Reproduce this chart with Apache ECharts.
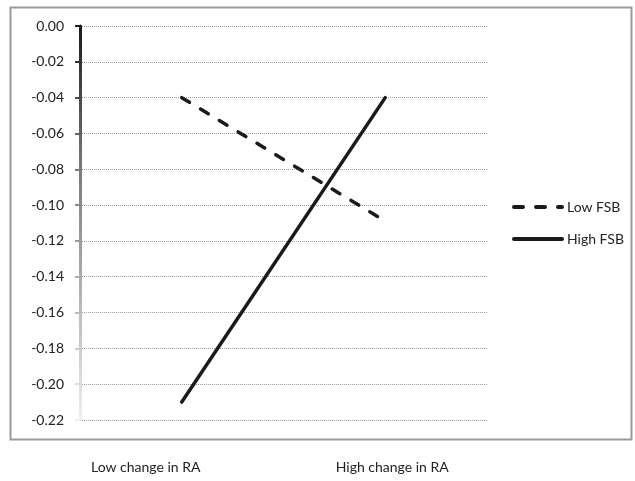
<!DOCTYPE html>
<html>
<head>
<meta charset="utf-8">
<script src="https://cdn.jsdelivr.net/npm/echarts@6/dist/echarts.min.js"></script>
<style>
html,body{margin:0;padding:0;background:#fff;}
#chart{width:635px;height:481px;}
</style>
</head>
<body>
<div id="chart"></div>
<script>
var categories = ['Low change in RA', 'High change in RA'];
var lowFSB = [-0.04, -0.109];
var highFSB = [-0.21, -0.04];
var seriesNames = ['Low FSB', 'High FSB'];
var yMin = -0.22, yMax = 0, yStep = 0.02;

var chart = echarts.init(document.getElementById('chart'), null, {renderer: 'canvas'});
var fontFam = 'Lato, "Open Sans", sans-serif';
var axisGrad = {
  type: 'linear', x: 0, y: 26, x2: 0, y2: 420, global: true,
  colorStops: [{offset: 0, color: '#1a1a1a'}, {offset: 0.35, color: '#777777'}, {offset: 1, color: '#eeeeee'}]
};
chart.setOption({
  animation: false,
  graphic: [{
    type: 'rect', left: 8, top: 5, silent: true, z: -1,
    shape: {width: 621, height: 432},
    style: {fill: 'none', stroke: '#999999', lineWidth: 2}
  }],
  legend: {
    orient: 'vertical', left: 512, top: 200, padding: 0, itemWidth: 48, itemHeight: 14, itemGap: 18,
    data: seriesNames,
    itemStyle: {opacity: 0},
    lineStyle: {width: 4},
    textStyle: {fontFamily: fontFam, fontSize: 14, color: '#222'}
  },
  grid: {left: 80, right: 148, top: 26, bottom: 61},
  xAxis: {
    type: 'category', data: categories, boundaryGap: true,
    axisLine: {show: false}, axisTick: {show: false},
    axisLabel: {
      margin: 40, fontFamily: fontFam, fontSize: 14, color: '#222',
      formatter: function (v, i) { return i === 0 ? '{a|' + v + '}' : '{b|' + v + '}'; },
      rich: {
        a: {padding: [0, 72, 0, 0], fontFamily: fontFam, fontSize: 14, color: '#222'},
        b: {padding: [0, 0, 0, 14], fontFamily: fontFam, fontSize: 14, color: '#222'}
      }
    },
    splitLine: {show: false}
  },
  yAxis: {
    type: 'value', min: yMin, max: yMax, interval: yStep,
    axisLine: {show: true, lineStyle: {color: axisGrad, width: 3}},
    axisTick: {show: true, length: 5, lineStyle: {color: axisGrad, width: 2}},
    axisLabel: {
      margin: 16, fontFamily: fontFam, fontSize: 14, color: '#222',
      formatter: function (v) { var s = v.toFixed(2); return s === '-0.00' ? '0.00' : s; }
    },
    splitLine: {show: true, lineStyle: {color: '#9a9a9a', type: 'dotted', width: 1}}
  },
  series: [{
    name: seriesNames[0], type: 'line', data: lowFSB, symbol: 'none',
    lineStyle: {color: '#1a1a1a', width: 3.5, type: [9, 13], cap: 'round'},
    itemStyle: {color: '#1a1a1a'}
  }, {
    name: seriesNames[1], type: 'line', data: highFSB, symbol: 'none',
    lineStyle: {color: '#1a1a1a', width: 3.5, type: 'solid', cap: 'round'},
    itemStyle: {color: '#1a1a1a'}
  }]
});
</script>
</body>
</html>
